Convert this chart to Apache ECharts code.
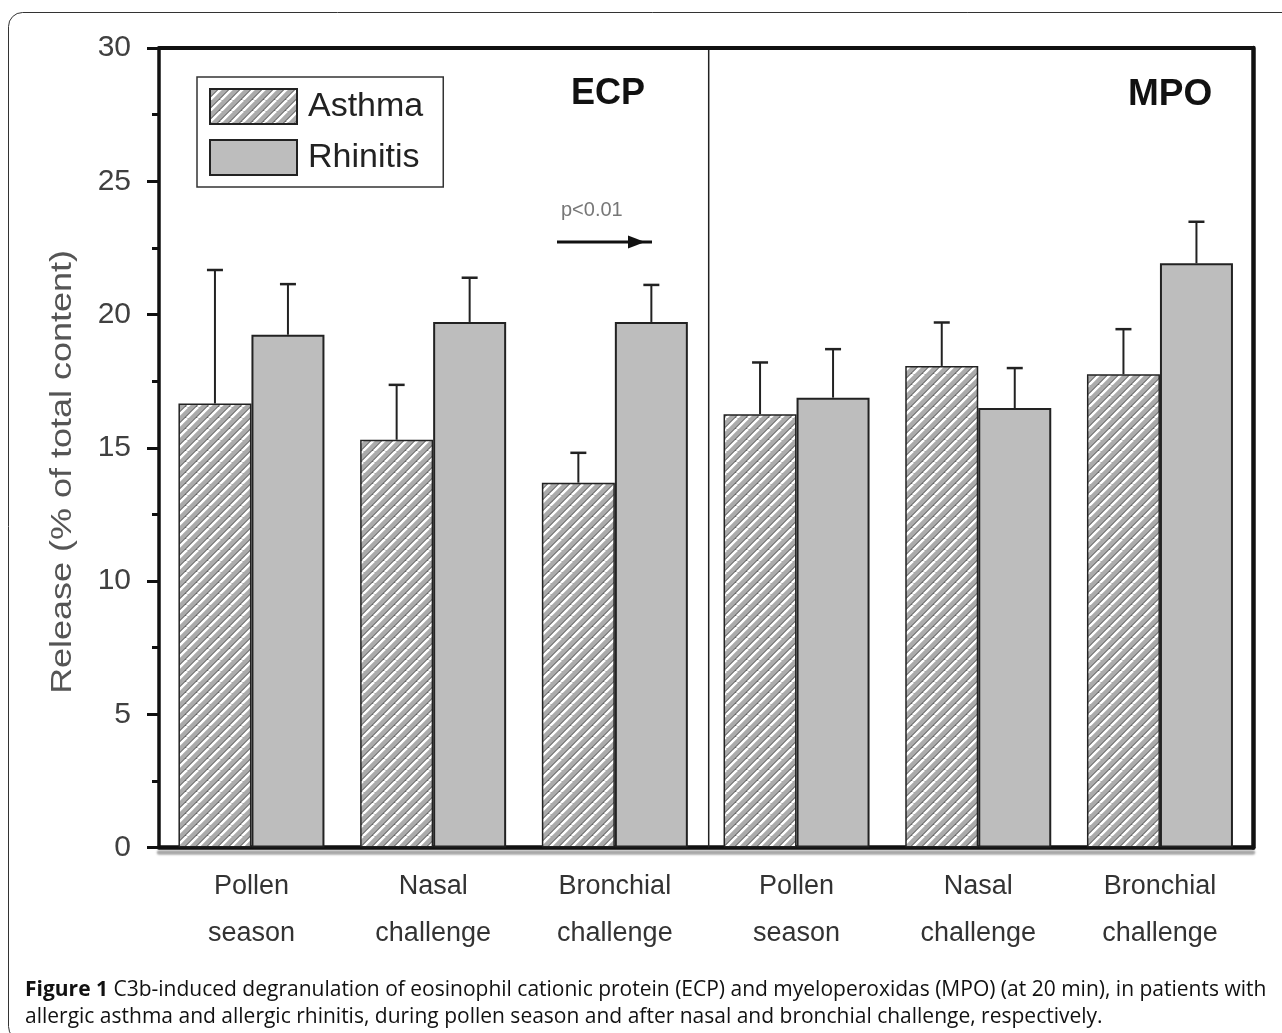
<!DOCTYPE html>
<html>
<head>
<meta charset="utf-8">
<script src="https://cdn.jsdelivr.net/npm/echarts@6/dist/echarts.min.js"></script>
<style>
  html, body { margin: 0; padding: 0; background: #fff; }
  #chart { width: 1282px; height: 1033px; }
</style>
</head>
<body>
<div id="chart"></div>
<script>
// ---- data ----
const categories = ['Pollen\nseason', 'Nasal\nchallenge', 'Bronchial\nchallenge',
                    'Pollen\nseason', 'Nasal\nchallenge', 'Bronchial\nchallenge'];
const asthmaMean   = [16.66, 15.30, 13.69, 16.26, 18.07, 17.76];
const asthmaErr    = [5.01, 2.06, 1.12, 1.94, 1.63, 1.69];
const rhinitisMean = [19.24, 19.72, 19.72, 16.88, 16.49, 21.92];
const rhinitisErr  = [1.90, 1.66, 1.39, 1.82, 1.50, 1.56];
const yMin = 0, yMax = 30, yInterval = 5;
const seriesNames = ['Asthma', 'Rhinitis'];
const yTitle = 'Release (% of total content)';
const panelLabels = ['ECP', 'MPO'];
const sigLabel = 'p<0.01';
const captionBold = 'Figure 1';
const captionLine1 = ' C3b-induced degranulation of eosinophil cationic protein (ECP) and myeloperoxidas (MPO) (at 20 min), in patients with';
const captionLine2 = 'allergic asthma and allergic rhinitis, during pollen season and after nasal and bronchial challenge, respectively.';

// ---- hatch pattern ----
function makeHatch() {
  const s = 11;
  const c = document.createElement('canvas');
  c.width = s; c.height = s;
  const g = c.getContext('2d');
  g.fillStyle = '#ababab';
  g.fillRect(0, 0, s, s);
  for (let k = -1; k <= 1; k++) {
    g.strokeStyle = '#3c3c3c';
    g.lineWidth = 1;
    g.beginPath(); g.moveTo(k * s - 2.4, s); g.lineTo(k * s + s - 2.4, 0); g.stroke();
    g.strokeStyle = '#ffffff';
    g.lineWidth = 2.6;
    g.beginPath(); g.moveTo(k * s, s); g.lineTo(k * s + s, 0); g.stroke();
  }
  return c;
}
const hatch = { image: makeHatch(), repeat: 'repeat' };

const BAR_W = 73;
const FONT = '"Liberation Sans", Arial, sans-serif';

function errSeries(name, means, errs, offset) {
  return {
    type: 'custom', name: name + '_err', xAxisIndex: 2, yAxisIndex: 2, z: 5,
    silent: true, legendHoverLink: false,
    data: means.map((m, i) => [i, m, m + errs[i]]),
    renderItem: function (params, api) {
      const p0 = api.coord([api.value(0), api.value(1)]);
      const p1 = api.coord([api.value(0), api.value(2)]);
      const x = p0[0] + offset;
      return {
        type: 'group',
        children: [
          { type: 'line', shape: { x1: x, y1: p0[1], x2: x, y2: p1[1] }, style: { stroke: '#222', lineWidth: 2 } },
          { type: 'line', shape: { x1: x - 8, y1: p1[1], x2: x + 8, y2: p1[1] }, style: { stroke: '#222', lineWidth: 2.5 } }
        ]
      };
    }
  };
}

const chart = echarts.init(document.getElementById('chart'), null, { renderer: 'canvas' });
chart.setOption({
  backgroundColor: '#fff',
  animation: false,
  textStyle: { fontFamily: FONT },
  grid: [
    { left: 159, right: 29, top: 48, bottom: 185.5 },
    { left: 160.6, right: 31.2, top: 48, bottom: 185.5 }
  ],
  legend: {
    data: seriesNames,
    orient: 'vertical',
    left: 197, top: 77,
    padding: [11, 20, 11, 12],
    itemWidth: 87, itemHeight: 35, itemGap: 14,
    icon: 'rect',
    borderColor: '#333', borderWidth: 1.5,
    textStyle: { fontSize: 34, color: '#222', fontFamily: FONT, padding: [0, 0, 0, 6] }
  },
  xAxis: [
    { gridIndex: 0, type: 'value', min: 0, max: 1, position: 'bottom',
      axisLine: { show: true, onZero: false, lineStyle: { color: '#111', width: 4.5, shadowColor: 'rgba(0,0,0,0.35)', shadowOffsetY: 5, shadowBlur: 2 } },
      axisTick: { show: false }, axisLabel: { show: false }, splitLine: { show: false } },
    { gridIndex: 0, type: 'value', min: 0, max: 1, position: 'top',
      axisLine: { show: true, onZero: false, lineStyle: { color: '#111', width: 4 } },
      axisTick: { show: false }, axisLabel: { show: false }, splitLine: { show: false } },
    { gridIndex: 1, type: 'category', data: categories, position: 'bottom',
      axisLine: { show: false }, axisTick: { show: false }, splitLine: { show: false },
      axisLabel: { margin: 16, fontSize: 27, color: '#333', lineHeight: 47, fontFamily: FONT, interval: 0 } }
  ],
  yAxis: [
    { gridIndex: 0, type: 'value', min: yMin, max: yMax, interval: yInterval, position: 'left',
      axisLine: { show: true, onZero: false, lineStyle: { color: '#111', width: 3.5 } },
      axisTick: { show: true, length: 12, lineStyle: { color: '#111', width: 3 } },
      minorTick: { show: true, splitNumber: 2, length: 7, lineStyle: { color: '#111', width: 3 } },
      axisLabel: { margin: 28, fontSize: 30, color: '#404040', fontFamily: FONT },
      splitLine: { show: false } },
    { gridIndex: 0, type: 'value', min: yMin, max: yMax, position: 'right',
      axisLine: { show: true, onZero: false, lineStyle: { color: '#111', width: 4.5 } },
      axisTick: { show: false }, axisLabel: { show: false }, splitLine: { show: false } },
    { gridIndex: 1, type: 'value', min: yMin, max: yMax, show: false }
  ],
  series: [
    { name: seriesNames[0], type: 'bar', xAxisIndex: 2, yAxisIndex: 2, barWidth: BAR_W, barGap: '0%',
      data: asthmaMean, z: 3,
      itemStyle: { color: hatch, borderColor: '#222', borderWidth: 1.5 } },
    { name: seriesNames[1], type: 'bar', xAxisIndex: 2, yAxisIndex: 2, barWidth: BAR_W, barGap: '0%',
      data: rhinitisMean, z: 3,
      itemStyle: { color: '#bdbdbd', borderColor: '#222', borderWidth: 2 } },
    errSeries(seriesNames[0], asthmaMean, asthmaErr, -BAR_W / 2),
    errSeries(seriesNames[1], rhinitisMean, rhinitisErr, BAR_W / 2),
    { type: 'custom', xAxisIndex: 2, yAxisIndex: 2, silent: true, z: 4,
      data: [[2, 3]],
      renderItem: function (params, api) {
        const a = api.coord([api.value(0), yMax]);
        const b = api.coord([api.value(1), yMin]);
        const x = (a[0] + b[0]) / 2 + 3;
        return { type: 'line', shape: { x1: x, y1: a[1] + 2, x2: x, y2: b[1] }, style: { stroke: '#222', lineWidth: 1.5 } };
      } }
  ],
  graphic: [
    { type: 'rect', z: -10, silent: true,
      shape: { x: 8.5, y: 12.5, width: 1300, height: 1028, r: 14 },
      style: { fill: 'none', stroke: '#333', lineWidth: 1 } },
    { type: 'text', x: 63, y: 472, rotation: Math.PI / 2, scaleX: 1.24, silent: true,
      style: { text: yTitle, font: '29px ' + FONT, fill: '#555', align: 'center', verticalAlign: 'middle' } },
    { type: 'text', left: 571, top: 76, silent: true,
      style: { text: panelLabels[0], font: 'bold 36px ' + FONT, fill: '#111' } },
    { type: 'text', left: 1128, top: 76, silent: true,
      style: { text: panelLabels[1], font: 'bold 37px ' + FONT, fill: '#111' } },
    { type: 'text', left: 561, top: 200, silent: true,
      style: { text: sigLabel, font: '20px ' + FONT, fill: '#777' } },
    { type: 'polyline', silent: true,
      shape: { points: [[557, 242], [652, 242]] },
      style: { stroke: '#111', lineWidth: 3 } },
    { type: 'polygon', silent: true,
      shape: { points: [[628, 235.5], [645, 242], [628, 248.5]] },
      style: { fill: '#111' } },
    { type: 'text', left: 25, top: 980, silent: true,
      style: {
        text: '{b|' + captionBold + '}{n|' + captionLine1 + '}\n{n|' + captionLine2 + '}',
        rich: {
          b: { fontFamily: '"Open Sans", sans-serif', fontWeight: 'bold', fontSize: 21, fill: '#111', lineHeight: 27 },
          n: { fontFamily: '"Open Sans", sans-serif', fontSize: 21, fill: '#111', lineHeight: 27 }
        }
      } }
  ]
});
</script>
</body>
</html>
